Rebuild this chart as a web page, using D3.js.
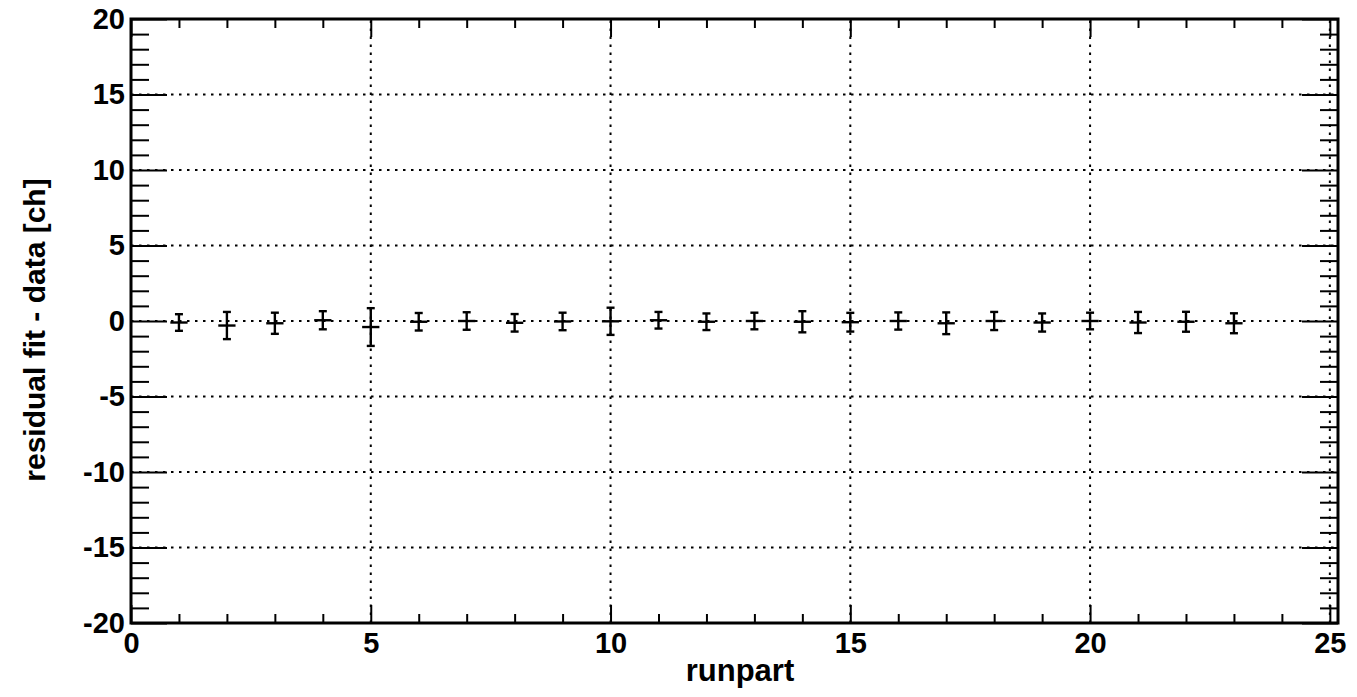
<!DOCTYPE html>
<html><head><meta charset="utf-8">
<script src="https://cdn.jsdelivr.net/npm/d3@7"></script>
<style>
html,body{margin:0;padding:0;background:#fff;}
svg{display:block;font-family:"Liberation Sans",Arial,Helvetica,sans-serif;font-weight:bold;}
</style></head>
<body>
<svg id="chart" width="1357" height="697"></svg>
<script>
const runparts = [1,2,3,4,5,6,7,8,9,10,11,12,13,14,15,16,17,18,19,20,21,22,23];
const residuals = [-0.1,-0.3,-0.15,0.05,-0.4,-0.05,0.0,-0.12,-0.03,-0.02,0.05,-0.05,0.0,-0.05,-0.08,0.0,-0.15,0.0,-0.1,0.0,-0.1,-0.05,-0.15];
const yErrors = [0.55,0.9,0.7,0.6,1.25,0.58,0.58,0.58,0.58,0.9,0.55,0.55,0.55,0.7,0.62,0.57,0.72,0.6,0.6,0.55,0.7,0.66,0.66];
const xErrors = runparts.map(() => 0.18);
const xTickLabels = [0,5,10,15,20,25];
const yTickLabels = [-20,-15,-10,-5,0,5,10,15,20];
const xDomain = [0, 25.17];
const yDomain = [-20, 20];
const xTitle = "runpart";
const yTitle = "residual fit - data [ch]";

const svg = d3.select("#chart");
const L = 131, R = 1338, T = 19, B = 623;
const x = d3.scaleLinear().domain(xDomain).range([L, R]);
const y = d3.scaleLinear().domain(yDomain).range([B, T]);
const fmt = d => String(d);

// grid
const grid = svg.append("g").attr("stroke","#000").attr("stroke-width",2).attr("stroke-dasharray","2.5,5.5");
grid.selectAll("line.gx").data(xTickLabels).join("line")
  .attr("x1", d=>x(d)).attr("x2", d=>x(d)).attr("y1", B).attr("y2", T);
grid.selectAll("line.gy").data(yTickLabels).join("line")
  .attr("y1", d=>y(d)).attr("y2", d=>y(d)).attr("x1", L).attr("x2", R);

const majLenY = 36, minLenY = 18, majLenX = 18, minLenX = 9;
const yMinor = d3.range(-20, 21, 1).filter(v => v % 5 !== 0);
const xMinor = d3.range(0, 26, 1).filter(v => v % 5 !== 0);

function addAxis(axisGen, transform) {
  const g = svg.append("g").attr("transform", transform).call(axisGen);
  g.select(".domain").remove();
  g.selectAll("line").attr("stroke","#000").attr("stroke-width",2);
  return g;
}
const yLeft = addAxis(d3.axisLeft(y).tickValues(yTickLabels).tickSize(-majLenY).tickFormat(fmt), `translate(${L},0)`);
yLeft.selectAll("text").attr("x", -6).attr("font-size", 29).attr("font-weight","bold").attr("fill","#000").attr("font-family","Liberation Sans, Arial, sans-serif");
addAxis(d3.axisLeft(y).tickValues(yMinor).tickSize(-minLenY).tickFormat(""), `translate(${L},0)`);
addAxis(d3.axisRight(y).tickValues(yTickLabels).tickSize(-majLenY).tickFormat(""), `translate(${R},0)`);
addAxis(d3.axisRight(y).tickValues(yMinor).tickSize(-minLenY).tickFormat(""), `translate(${R},0)`);
const xBot = addAxis(d3.axisBottom(x).tickValues(xTickLabels).tickSize(-majLenX).tickFormat(fmt), `translate(0,${B})`);
xBot.selectAll("text").attr("y", 9).attr("dy","0.71em").attr("font-size", 29).attr("font-weight","bold").attr("fill","#000").attr("font-family","Liberation Sans, Arial, sans-serif");
addAxis(d3.axisBottom(x).tickValues(xMinor).tickSize(-minLenX).tickFormat(""), `translate(0,${B})`);
addAxis(d3.axisTop(x).tickValues(xTickLabels).tickSize(-majLenX).tickFormat(""), `translate(0,${T})`);
addAxis(d3.axisTop(x).tickValues(xMinor).tickSize(-minLenX).tickFormat(""), `translate(0,${T})`);

svg.append("rect").attr("x", L).attr("y", T).attr("width", R-L).attr("height", B-T)
  .attr("fill","none").attr("stroke","#000").attr("stroke-width",3);

const data = runparts.map((r,i)=>({x:r, y:residuals[i], ey:yErrors[i], ex:xErrors[i]}));
const pts = svg.append("g").attr("stroke","#000").attr("stroke-width",2.4).attr("fill","none");
const cap = 4;
data.forEach(d => {
  const g = pts.append("g");
  g.append("line").attr("x1", x(d.x)).attr("x2", x(d.x)).attr("y1", y(d.y-d.ey)).attr("y2", y(d.y+d.ey));
  g.append("line").attr("x1", x(d.x-d.ex)).attr("x2", x(d.x+d.ex)).attr("y1", y(d.y)).attr("y2", y(d.y));
  g.append("line").attr("x1", x(d.x)-cap).attr("x2", x(d.x)+cap).attr("y1", y(d.y-d.ey)).attr("y2", y(d.y-d.ey));
  g.append("line").attr("x1", x(d.x)-cap).attr("x2", x(d.x)+cap).attr("y1", y(d.y+d.ey)).attr("y2", y(d.y+d.ey));
});

svg.append("text").attr("x", 740).attr("y", 681).attr("text-anchor","middle")
  .attr("font-size", 31).text(xTitle);
svg.append("text").attr("transform", `translate(45,330) rotate(-90)`).attr("text-anchor","middle")
  .attr("font-size", 30).text(yTitle);
</script>
</body></html>
